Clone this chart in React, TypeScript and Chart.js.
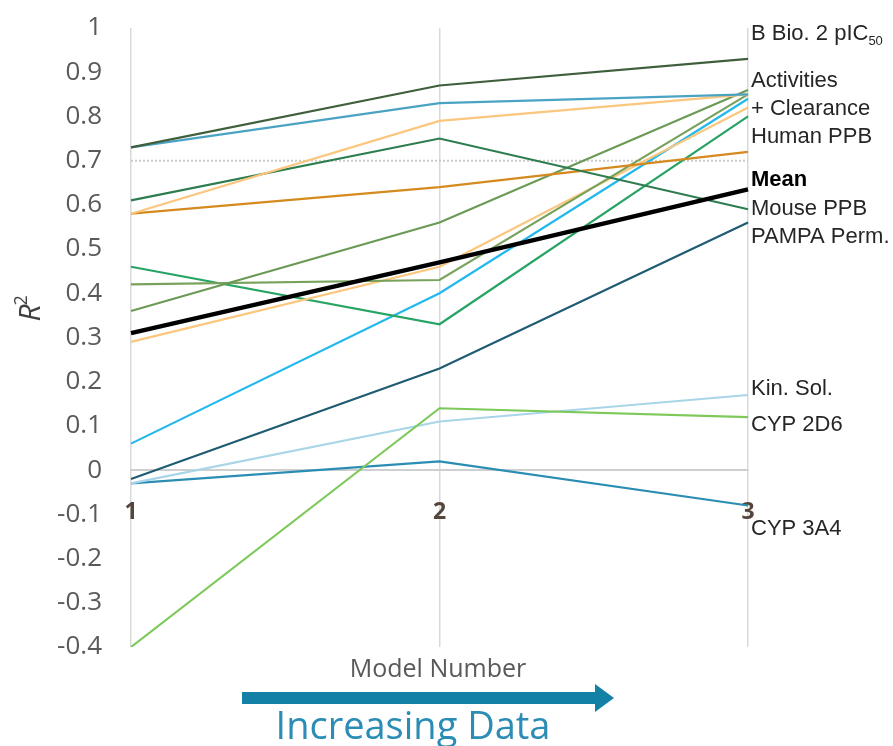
import React, { useEffect, useRef } from 'react';
import { Chart, registerables } from 'chart.js';

Chart.register(...registerables);

// ---- data ----
const modelNumbers = ['1', '2', '3'];

const meanR2 = [0.31, 0.47, 0.635];
const bBio2 = [0.73, 0.87, 0.93];
const activityBlue = [0.73, 0.83, 0.85];
const activityOrangeA = [0.58, 0.79, 0.85];
const mousePPB = [0.61, 0.75, 0.59];
const humanPPB = [0.58, 0.64, 0.72];
const activityOliveA = [0.36, 0.56, 0.86];
const activityOliveB = [0.42, 0.43, 0.85];
const activityOrangeB = [0.29, 0.46, 0.82];
const clearanceGreen = [0.46, 0.33, 0.8];
const activitySky = [0.06, 0.4, 0.84];
const pampaPerm = [-0.02, 0.23, 0.56];
const cyp2D6 = [-0.4, 0.14, 0.12];
const kinSol = [-0.03, 0.11, 0.17];
const cyp3A4 = [-0.03, 0.02, -0.08];
const threshold = [0.7, 0.7, 0.7];

const yTickLabels = ['-0.4', '-0.3', '-0.2', '-0.1', '0', '0.1', '0.2', '0.3', '0.4', '0.5', '0.6', '0.7', '0.8', '0.9', '1'];

const sideLabels = ['B Bio. 2 pIC50', 'Activities', '+ Clearance', 'Human PPB', 'Mean', 'Mouse PPB', 'PAMPA Perm.', 'Kin. Sol.', 'CYP 2D6', 'CYP 3A4'];
const sideLabelValues = [0.986, 0.88, 0.817, 0.753, 0.656, 0.59, 0.527, 0.183, 0.102, -0.133];

const series = [
  { name: 'Mean', data: meanR2, color: '#000000', width: 4.5 },
  { name: 'B Bio. 2 pIC50', data: bBio2, color: '#3f5f3c', width: 2.2 },
  { name: 'Activities (blue)', data: activityBlue, color: '#4ba3c3', width: 2.2 },
  { name: 'Activities (orange A)', data: activityOrangeA, color: '#fbc67d', width: 2.2 },
  { name: 'Mouse PPB', data: mousePPB, color: '#2e7d50', width: 2.2 },
  { name: 'Human PPB', data: humanPPB, color: '#d48a1e', width: 2.2 },
  { name: 'Activities (olive A)', data: activityOliveA, color: '#6a9a55', width: 2.2 },
  { name: 'Activities (olive B)', data: activityOliveB, color: '#78a25c', width: 2.2 },
  { name: 'Activities (orange B)', data: activityOrangeB, color: '#fbc67d', width: 2.2 },
  { name: 'Clearance', data: clearanceGreen, color: '#27a463', width: 2.2 },
  { name: 'Activities (sky)', data: activitySky, color: '#22b8ee', width: 2.2 },
  { name: 'PAMPA Perm.', data: pampaPerm, color: '#1f5b72', width: 2.2 },
  { name: 'CYP 2D6', data: cyp2D6, color: '#7dc95a', width: 2.2 },
  { name: 'Kin. Sol.', data: kinSol, color: '#a9d5e8', width: 2.2 },
  { name: 'CYP 3A4', data: cyp3A4, color: '#2a8db3', width: 2.2 },
];

const annotate = {
  id: 'annotate',
  afterDraw(chart: any) {
    const { ctx, chartArea, scales } = chart;
    const ys = scales.y;
    ctx.save();

    // right side labels
    ctx.textAlign = 'left';
    ctx.textBaseline = 'middle';
    const px = chartArea.right + 3;
    sideLabels.forEach((t, i) => {
      const py = ys.getPixelForValue(sideLabelValues[i]);
      const bold = t === 'Mean';
      ctx.fillStyle = bold ? '#000000' : '#262626';
      ctx.font = `${bold ? 'bold ' : ''}22px "Liberation Sans", Arial, sans-serif`;
      if (t.startsWith('B Bio. 2 pIC')) {
        const main = 'B Bio. 2 pIC';
        ctx.fillText(main, px, py);
        const w = ctx.measureText(main).width;
        ctx.font = '13px "Liberation Sans", Arial, sans-serif';
        ctx.fillText(t.slice(main.length), px + w, py + 7);
      } else {
        ctx.fillText(t, px, py);
      }
    });

    // y-axis title R^2
    ctx.save();
    ctx.translate(31, 313);
    ctx.rotate(-Math.PI / 2);
    ctx.fillStyle = '#404040';
    ctx.textAlign = 'center';
    ctx.textBaseline = 'middle';
    ctx.font = 'italic 30px "Open Sans", sans-serif';
    ctx.fillText('R', 0, 0);
    const rw = ctx.measureText('R').width;
    ctx.font = '18px "Open Sans", sans-serif';
    ctx.textAlign = 'left';
    ctx.fillText('2', rw / 2 - 1, -9);
    ctx.restore();

    // x axis title
    ctx.fillStyle = '#595959';
    ctx.textAlign = 'center';
    ctx.textBaseline = 'middle';
    ctx.font = '25px "Open Sans", sans-serif';
    ctx.fillText('Model Number', 438, 670);

    // arrow
    ctx.fillStyle = '#1380a6';
    ctx.fillRect(242, 692, 356, 12);
    ctx.beginPath();
    ctx.moveTo(595, 684);
    ctx.lineTo(614, 698);
    ctx.lineTo(595, 712);
    ctx.closePath();
    ctx.fill();

    ctx.fillStyle = '#2b8db5';
    ctx.textBaseline = 'alphabetic';
    ctx.font = '38px "Open Sans", sans-serif';
    ctx.fillText('Increasing Data', 413, 739);

    ctx.restore();
  },
};

export default function App() {
  const ref = useRef<HTMLCanvasElement | null>(null);

  useEffect(() => {
    document.body.style.margin = '0';
    const canvas = ref.current;
    if (!canvas) return;
    const datasets: any[] = series.map((s) => ({
      label: s.name,
      data: s.data,
      borderColor: s.color,
      backgroundColor: s.color,
      borderWidth: s.width,
      pointRadius: 0,
      tension: 0,
      fill: false,
    }));
    datasets.push({
      label: 'Threshold',
      data: threshold,
      borderColor: '#c9c9c9',
      borderWidth: 2,
      borderDash: [2, 2],
      pointRadius: 0,
      fill: false,
    });

    const chart = new Chart(canvas, {
      type: 'line',
      data: { labels: modelNumbers, datasets },
      options: {
        responsive: false,
        animation: false,
        devicePixelRatio: 1,
        layout: { padding: { left: 0, right: 145, top: 28, bottom: 99 } },
        plugins: { legend: { display: false }, tooltip: { enabled: false } },
        scales: {
          x: {
            type: 'category',
            offset: false,
            position: { y: 0 } as any,
            afterFit: (s: any) => { s.height = 0; },
            grid: { display: true, color: '#d9d9d9', lineWidth: 1.5, drawTicks: false, offset: false },
            border: { display: true, color: '#cfcfcf', width: 2 },
            ticks: {
              padding: 29,
              color: '#54453d',
              font: { family: '"Open Sans", sans-serif', size: 23, weight: 'bold' },
              maxRotation: 0,
            },
          },
          y: {
            min: -0.4,
            max: 1,
            afterFit: (s: any) => { s.width = 131; },
            grid: { display: false, drawTicks: true, tickLength: 29 },
            border: { display: false },
            ticks: {
              stepSize: 0.1,
              padding: 0,
              color: '#5a5a5a',
              font: { family: '"Open Sans", sans-serif', size: 26 },
              callback: (v: any) => {
                const idx = Math.round((Number(v) + 0.4) * 10);
                return yTickLabels[idx] ?? '';
              },
            },
          },
        },
      },
      plugins: [annotate],
    });
    return () => chart.destroy();
  }, []);

  return <canvas ref={ref} width={893} height={746} style={{ display: 'block' }} />;
}
